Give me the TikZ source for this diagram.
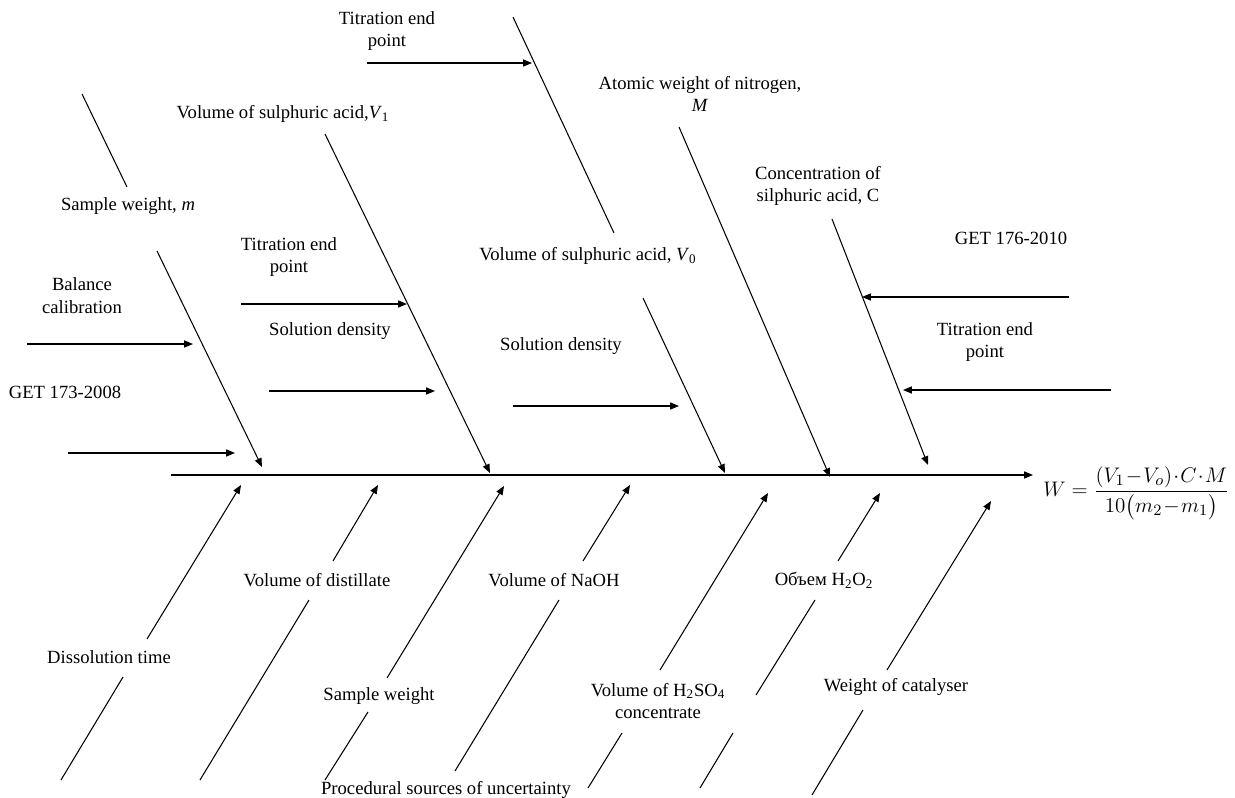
\documentclass[tikz,border=0pt]{standalone}
\usepackage{amsmath}
\usepackage{fontspec}
\setmainfont{Liberation Serif}
\usetikzlibrary{arrows.meta}
\tikzset{
  lbl/.style={align=center, inner sep=1pt, font=\fontsize{10.6}{13}\selectfont},
  bone/.style={line width=0.6pt},
  cause/.style={bone, -{Triangle[length=5pt,width=4pt]}},
}
\begin{document}
\begin{tikzpicture}[x=0.02cm,y=-0.02cm]
\useasboundingbox (0,0) rectangle (1235,798);

% spine and result
\coordinate (tail) at (171,475);
\coordinate (head) at (1033,475);
\node[anchor=west, inner sep=0pt, font=\fontsize{13}{15}\selectfont] (res) at (1043,493)
  {$W=\dfrac{(V_1\!-\!V_o)\!\cdot\! C\!\cdot\! M}{10\bigl(m_2\!-\!m_1\bigr)}$};
\draw[cause] (tail) -- (head);

% upper causes, left
\node[lbl] (sampm) at (128,206) {Sample weight, \textit{m}};
\coordinate (sampm1) at (82,94);
\coordinate (sampm2) at (127,187);
\coordinate (sampm3) at (157,251);
\coordinate (sampm4) at (262,467);
\draw[bone] (sampm1) -- (sampm2);
\draw[cause] (sampm3) -- (sampm4);

\node[lbl] (balance) at (82,296) {Balance\\calibration};
\coordinate (balance1) at (27,344);
\coordinate (balance2) at (193,344);
\draw[cause] (balance1) -- (balance2);

\node[lbl] (get173) at (65,392) {GET 173-2008};
\coordinate (get1731) at (68,453);
\coordinate (get1732) at (235,453);
\draw[cause] (get1731) -- (get1732);

\node[lbl] (acid1) at (283,114) {Volume of sulphuric acid,\textit{V}\textsubscript{1}};
\coordinate (acid11) at (325,134);
\coordinate (acid12) at (490,473);
\draw[cause] (acid11) -- (acid12);

\node[lbl] (endpt1) at (289,257) {Titration end\\point};
\coordinate (endpt11) at (241,304);
\coordinate (endpt12) at (407,304);
\draw[cause] (endpt11) -- (endpt12);

\node[lbl] (dens1) at (330,331) {Solution density};
\coordinate (dens11) at (269,391);
\coordinate (dens12) at (435,391);
\draw[cause] (dens11) -- (dens12);

% upper causes, middle
\node[lbl] (endpt2) at (387,31) {Titration end\\point};
\coordinate (endpt21) at (367,63);
\coordinate (endpt22) at (532,63);
\draw[cause] (endpt21) -- (endpt22);

\node[lbl] (acid0) at (588,256) {Volume of sulphuric acid, \textit{V}\textsubscript{0}};
\coordinate (acid01) at (513,17);
\coordinate (acid02) at (614,233);
\coordinate (acid03) at (643,298);
\coordinate (acid04) at (725,473);
\draw[bone] (acid01) -- (acid02);
\draw[cause] (acid03) -- (acid04);

\node[lbl] (dens2) at (561,346) {Solution density};
\coordinate (dens21) at (513,406);
\coordinate (dens22) at (679,406);
\draw[cause] (dens21) -- (dens22);

\node[lbl] (nitro) at (700,94) {Atomic weight of nitrogen,\\\textit{M}};
\coordinate (nitro1) at (679,127);
\coordinate (nitro2) at (830,477);
\draw[cause] (nitro1) -- (nitro2);

% upper causes, right
\node[lbl] (conc) at (818,186) {Concentration of\\silphuric acid, C};
\coordinate (conc1) at (832,219);
\coordinate (conc2) at (928,465);
\draw[cause] (conc1) -- (conc2);

\node[lbl] (get176) at (1011,238) {GET 176-2010};
\coordinate (get1761) at (1069,297);
\coordinate (get1762) at (862,297);
\draw[cause] (get1761) -- (get1762);

\node[lbl] (endpt3) at (985,342) {Titration end\\point};
\coordinate (endpt31) at (1111,390);
\coordinate (endpt32) at (903,390);
\draw[cause] (endpt31) -- (endpt32);

% lower causes
\node[lbl] (dissol) at (109,657) {Dissolution time};
\coordinate (dissol1) at (147,639);
\coordinate (dissol2) at (241,485);
\coordinate (dissol3) at (123,677);
\coordinate (dissol4) at (61,780);
\draw[cause] (dissol1) -- (dissol2);
\draw[bone] (dissol3) -- (dissol4);

\node[lbl] (distil) at (317,580) {Volume of distillate};
\coordinate (distil1) at (333,561);
\coordinate (distil2) at (378,485);
\coordinate (distil3) at (309,600);
\coordinate (distil4) at (200,780);
\draw[cause] (distil1) -- (distil2);
\draw[bone] (distil3) -- (distil4);

\node[lbl] (samp) at (379,696) {Sample weight};
\coordinate (samp1) at (387,678);
\coordinate (samp2) at (504,486);
\coordinate (samp3) at (368,712);
\coordinate (samp4) at (325,780);
\draw[cause] (samp1) -- (samp2);
\draw[bone] (samp3) -- (samp4);

\node[lbl] (naoh) at (554,580) {Volume of NaOH};
\coordinate (naoh1) at (583,561);
\coordinate (naoh2) at (630,485);
\coordinate (naoh3) at (559,600);
\coordinate (naoh4) at (455,771);
\draw[cause] (naoh1) -- (naoh2);
\draw[bone] (naoh3) -- (naoh4);

\node[lbl] (sulf) at (658,701) {Volume of H\textsubscript{2}SO\textsubscript{4}\\concentrate};
\coordinate (sulf1) at (660,670);
\coordinate (sulf2) at (768,493);
\coordinate (sulf3) at (622,733);
\coordinate (sulf4) at (588,788);
\draw[cause] (sulf1) -- (sulf2);
\draw[bone] (sulf3) -- (sulf4);

\node[lbl] (perox) at (824,580) {Объем H\textsubscript{2}O\textsubscript{2}};
\coordinate (perox1) at (838,561);
\coordinate (perox2) at (880,493);
\coordinate (perox3) at (815,600);
\coordinate (perox4) at (756,695);
\coordinate (perox5) at (733,733);
\coordinate (perox6) at (700,788);
\draw[cause] (perox1) -- (perox2);
\draw[bone] (perox3) -- (perox4);
\draw[bone] (perox5) -- (perox6);

\node[lbl] (catal) at (896,687) {Weight of catalyser};
\coordinate (catal1) at (887,670);
\coordinate (catal2) at (991,501);
\coordinate (catal3) at (863,710);
\coordinate (catal4) at (812,795);
\draw[cause] (catal1) -- (catal2);
\draw[bone] (catal3) -- (catal4);

\node[lbl] (proc) at (446,790) {Procedural sources of uncertainty};

\end{tikzpicture}
\end{document}
